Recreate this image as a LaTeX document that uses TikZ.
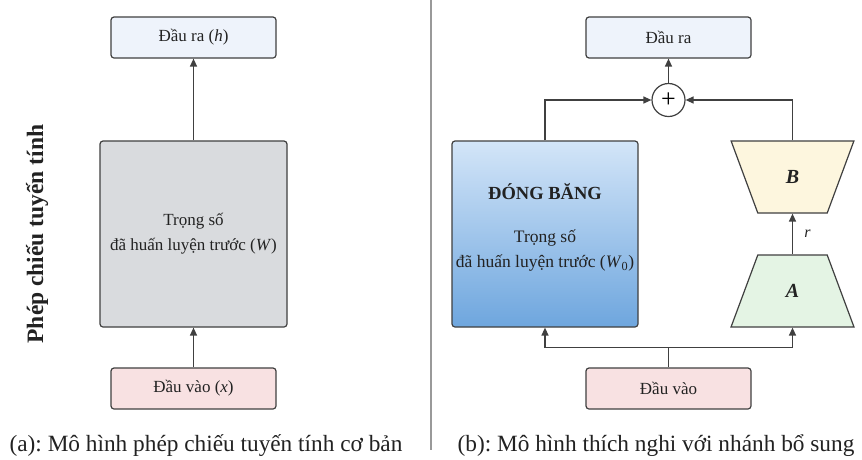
\documentclass[tikz,border=0pt]{standalone}
\usepackage{fontspec}
\setmainfont{Liberation Serif}
\frenchspacing
\usetikzlibrary{arrows.meta,shapes.geometric,calc}
\definecolor{edge}{HTML}{404040}
\definecolor{txt}{HTML}{222222}
\definecolor{outfill}{HTML}{EEF3FB}
\definecolor{infill}{HTML}{F8E1E2}
\definecolor{greyfill}{HTML}{D9DBDE}
\definecolor{bluetop}{HTML}{D3E5F8}
\definecolor{bluebot}{HTML}{6EA6DE}
\definecolor{bfill}{HTML}{FDF6DE}
\definecolor{afill}{HTML}{E4F4E4}
\tikzset{
  box/.style={draw=edge, line width=1.2pt, rounded corners=3pt, text=txt, align=center, inner sep=0pt, font=\fontsize{17}{25}\selectfont},
  io/.style={box, minimum width=165pt, minimum height=41pt},
  big/.style={box, minimum width=187pt, minimum height=186pt},
  trap/.style={draw=edge, line width=1.2pt, trapezium, trapezium stretches=true, trapezium left angle=68.7, trapezium right angle=68.7, minimum width=123pt, minimum height=72pt, inner sep=0pt, text=txt, font=\fontsize{20}{22}\selectfont\bfseries\itshape},
  arr/.style={draw=edge, line width=1.3pt, -{Triangle[length=8pt,width=7pt]}},
  ln/.style={draw=edge, line width=1.3pt},
  captxt/.style={text=txt, font=\fontsize{23.3}{26}\selectfont},
}
\begin{document}
\begin{tikzpicture}[x=1pt,y=-1pt]
\useasboundingbox (0,0) rectangle (862,459);
\fill[white] (0,0) rectangle (862,459);
% separator
\coordinate (sepT) at (431,0);
\coordinate (sepB) at (431,450);
\draw[gray!80, line width=1.1pt] (sepT) -- (sepB);
% left panel
\node[io, fill=outfill] (outA) at (193.5,37.5) {Đầu ra (\textit{h})};
\node[big, fill=greyfill] (wA) at (193.5,234) {Trọng số\\đã huấn luyện trước (\textit{W})};
\node[io, fill=infill] (inA) at (193.5,388.5) {Đầu vào (\textit{x})};
\draw[arr] (wA.north) -- (outA.south);
\draw[arr] (inA.north) -- (wA.south);
\node[rotate=90, text=txt, font=\fontsize{23.5}{26}\selectfont\bfseries] (lbl) at (37,234) {Phép chiếu tuyến tính};
\node[captxt] (capA) at (206,446) {(a): Mô hình phép chiếu tuyến tính cơ bản};
% right panel
\node[io, fill=outfill] (outB) at (668.5,37.5) {Đầu ra};
\node[draw=edge, line width=1.2pt, circle, fill=white, minimum size=33pt, inner sep=0pt, font=\fontsize{26}{26}\selectfont] (plus) at (668.5,100) {+};
\node[big, minimum width=186pt, top color=bluetop, bottom color=bluebot] (wB) at (545,234) {};
\node[text=txt, font=\fontsize{18.5}{22}\selectfont\bfseries] (frz) at (545,192) {ĐÓNG BĂNG};
\node[text=txt, align=center, font=\fontsize{17.5}{25}\selectfont] (wBt) at (545,251) {Trọng số\\đã huấn luyện trước (\textit{W}\textsubscript{0})};
\node[trap, shape border rotate=180, fill=bfill] (B) at (792.5,177) {B};
\node[trap, fill=afill] (A) at (792.5,291) {A};
\node[io, fill=infill] (inB) at (668.5,388.5) {Đầu vào};
\draw[arr] (plus.north) -- (outB.south);
\draw[arr] (wB.north) |- (plus.west);
\draw[arr] (B.north) |- (plus.east);
\draw[arr] (A.north) -- node[right=8pt, text=txt, font=\fontsize{16}{18}\selectfont\itshape] (rl) {r} (B.south);
\coordinate (split) at ($(inB.north)+(0,-20)$);
\draw[ln] (inB.north) -- (split);
\draw[arr] (split) -| (wB.south);
\draw[arr] (split) -| (A.south);
\node[captxt] (capB) at (656,446) {(b): Mô hình thích nghi với nhánh bổ sung};
\end{tikzpicture}
\end{document}
